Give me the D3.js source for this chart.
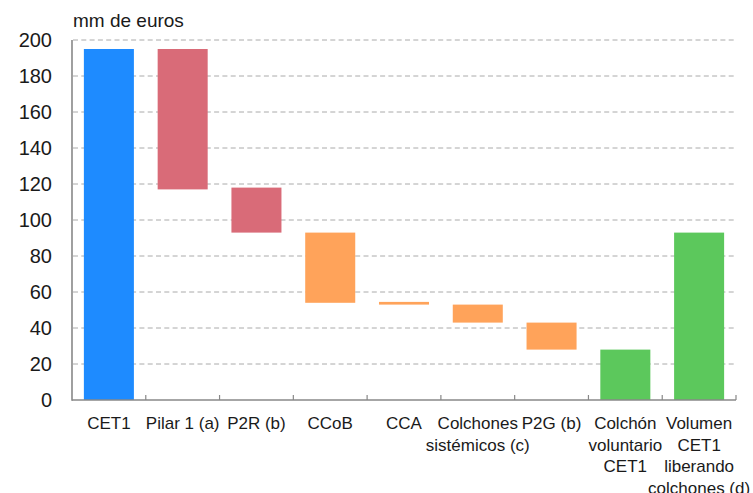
<!DOCTYPE html>
<meta charset="utf-8">
<style>

body {
  margin: 0;
}

text {
  font-family: "Liberation Sans", Arial, sans-serif;
  fill: #1a1a1a;
}

.grid line {
  stroke: #aaa;
  stroke-dasharray: 5,3.3;
}

.axis-line {
  stroke: #888;
  stroke-width: 1.6;
}

</style>
<svg width="753" height="493"></svg>
<script src="https://d3js.org/d3.v7.min.js"></script>
<script>

var categories = [
  "CET1",
  "Pilar 1 (a)",
  "P2R (b)",
  "CCoB",
  "CCA",
  "Colchones\nsistémicos (c)",
  "P2G (b)",
  "Colchón\nvoluntario\nCET1",
  "Volumen\nCET1\nliberando\ncolchones (d)"
];

// bottom and top of each floating bar, mm de euros
var lows = [0, 117, 93, 54, 53, 43, 28, 0, 0];
var highs = [195, 195, 118, 93, 54.5, 53, 43, 28, 93];
var groups = ["total", "pilar", "pilar", "colchon", "colchon", "colchon", "colchon", "resultado", "resultado"];

var yTicks = [0, 20, 40, 60, 80, 100, 120, 140, 160, 180, 200];

var colors = {
  total: "#1e8bff",
  pilar: "#d96b78",
  colchon: "#ffa35a",
  resultado: "#5cc85c"
};

var svg = d3.select("svg"),
    x0 = 72, x1 = 736, y0 = 400, y1 = 40;

var x = d3.scaleBand()
    .domain(categories)
    .range([x0, x1])
    .paddingInner(0.322)
    .paddingOuter(0.161);

var y = d3.scaleLinear()
    .domain([0, 200])
    .range([y0, y1]);

// dashed grid
svg.append("g")
    .attr("class", "grid")
  .selectAll("line")
  .data(yTicks.filter(function(d) { return d > 0; }))
  .enter().append("line")
    .attr("x1", x0 + 1)
    .attr("x2", x1)
    .attr("y1", function(d) { return y(d); })
    .attr("y2", function(d) { return y(d); });

// y tick labels
svg.append("g")
  .selectAll("text")
  .data(yTicks)
  .enter().append("text")
    .attr("x", x0 - 20)
    .attr("y", function(d) { return y(d); })
    .attr("dy", "0.36em")
    .attr("text-anchor", "end")
    .style("font-size", "20px")
    .text(function(d) { return d; });

svg.append("text")
    .attr("x", x0 + 1)
    .attr("y", 27)
    .style("font-size", "19px")
    .text("mm de euros");

// bars
svg.append("g")
  .selectAll("rect")
  .data(categories)
  .enter().append("rect")
    .attr("x", function(d) { return x(d); })
    .attr("width", x.bandwidth())
    .attr("y", function(d, i) { return y(highs[i]); })
    .attr("height", function(d, i) { return y(lows[i]) - y(highs[i]); })
    .attr("fill", function(d, i) { return colors[groups[i]]; });

// axes
svg.append("line")
    .attr("class", "axis-line")
    .attr("x1", x0).attr("x2", x0)
    .attr("y1", y1).attr("y2", y0 + 0.8);

svg.append("line")
    .attr("class", "axis-line")
    .attr("x1", x0).attr("x2", x1)
    .attr("y1", y0).attr("y2", y0);

var step = x.step();
svg.append("g")
  .selectAll("line")
  .data(categories)
  .enter().append("line")
    .attr("class", "axis-line")
    .style("stroke-width", 1.2)
    .attr("x1", function(d, i) { return x0 + step * (i + 1); })
    .attr("x2", function(d, i) { return x0 + step * (i + 1); })
    .attr("y1", y0)
    .attr("y2", y0 - 5);

// category labels
var label = svg.append("g")
  .selectAll("text")
  .data(categories)
  .enter().append("text")
    .attr("x", function(d) { return x(d) + x.bandwidth() / 2; })
    .attr("y", 429)
    .attr("text-anchor", "middle")
    .style("font-size", "17px");

label.selectAll("tspan")
  .data(function(d) { return d.split("\n"); })
  .enter().append("tspan")
    .attr("x", function() { return d3.select(this.parentNode).attr("x"); })
    .attr("dy", function(d, i) { return i ? 21.7 : 0; })
    .text(function(d) { return d; });

</script>
